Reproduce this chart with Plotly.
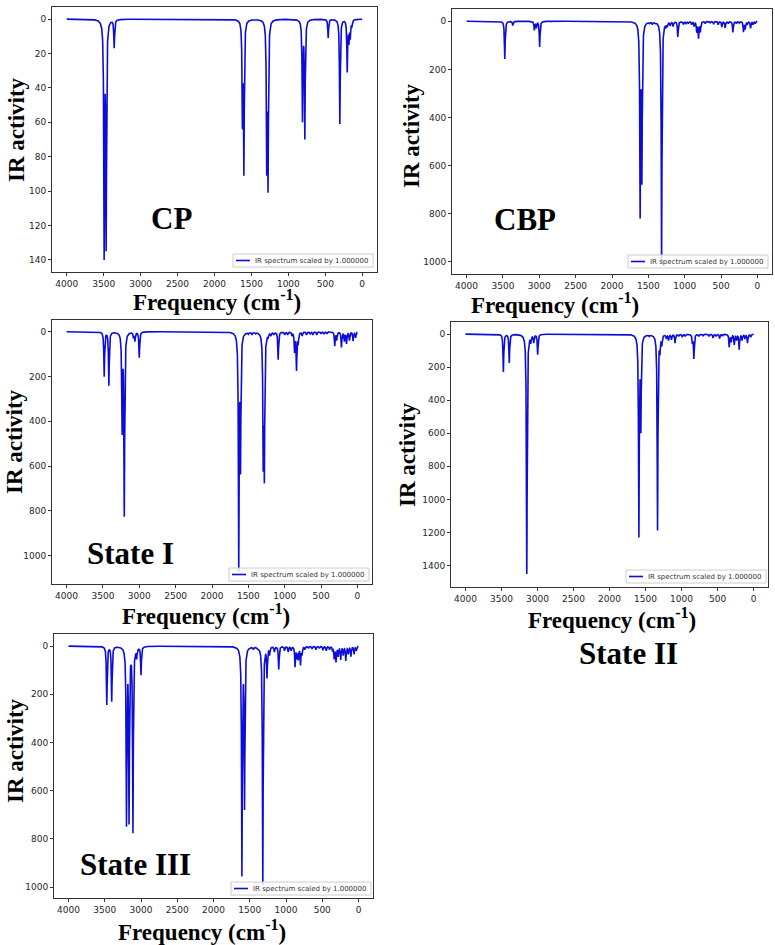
import numpy as np
import plotly.graph_objects as go

W, H = 775, 945

# ---------------- data: IR bands (frequency cm-1, peak height) -------------
cp_freq = [3494, 3467, 3358, 1622, 1602, 1293, 1275, 809, 777, 461, 303, 203, 180, 162, 140]
cp_height = [140, 135, 17, 64, 91, 91, 101, 60, 70, 11, 61, 31, 15, 12, 5]

cbp_freq = [3474, 3364, 3068, 3040, 2995, 1613, 1589, 1485, 1445, 1405, 1318, 1288, 1262, 1240,
            1200, 1160, 1095, 1020, 985, 950, 905, 870, 835, 810, 785, 718, 650, 603, 540, 490,
            444, 400, 338, 290, 250, 192, 168, 140, 95, 60, 30]
cbp_height = [157, 18, 38, 30, 107, 820, 680, 10, 14, 10, 1000, 40, 30, 25,
              20, 22, 65, 14, 12, 10, 15, 22, 48, 73, 46, 10, 8, 12, 14, 24,
              28, 10, 46, 10, 8, 45, 35, 15, 30, 15, 10]

s1_freq = [3482, 3418, 3236, 3206, 3080, 3060, 3000, 1632, 1608, 1500, 1450, 1400, 1296, 1280,
           1250, 1230, 1190, 1150, 1090, 1000, 960, 900, 865, 838, 815, 760, 700, 650, 613, 560,
           500, 460, 420, 312, 285, 220, 180, 150, 110, 60, 25]
s1_height = [201, 241, 461, 826, 30, 45, 116, 1070, 637, 12, 15, 10, 625, 677,
             45, 30, 20, 15, 125, 15, 15, 20, 95, 175, 60, 20, 15, 12, 15, 15,
             10, 12, 10, 65, 40, 70, 45, 55, 40, 42, 28]

s2_freq = [3473, 3391, 3148, 3093, 3052, 2997, 1592, 1565, 1500, 1450, 1400, 1333, 1300, 1274,
           1210, 1180, 1140, 1090, 1040, 990, 950, 850, 829, 760, 700, 620, 563, 520, 472, 430,
           338, 310, 268, 235, 200, 160, 120, 85, 40]
s2_height = [230, 175, 1452, 60, 55, 125, 1231, 600, 12, 15, 10, 1188, 130, 75,
             30, 40, 35, 55, 15, 20, 15, 60, 150, 15, 12, 15, 24, 15, 28, 12,
             80, 50, 65, 40, 95, 40, 30, 55, 20]

s3_freq = [3472, 3404, 3200, 3165, 3111, 3085, 3060, 3000, 1608, 1572, 1500, 1450, 1400, 1320,
           1296, 1262, 1227, 1160, 1100, 1020, 970, 930, 875, 850, 830, 800, 780, 740, 690, 640,
           587, 540, 490, 445, 400, 358, 335, 310, 280, 245, 210, 175, 140, 105, 60, 30]
s3_height = [244, 231, 749, 740, 776, 40, 55, 121, 956, 680, 12, 15, 10, 990,
             60, 134, 40, 25, 97, 20, 25, 20, 88, 55, 60, 80, 40, 15, 10, 12,
             15, 10, 18, 20, 15, 23, 55, 68, 45, 58, 40, 62, 35, 44, 35, 20]

panel_names = ["CP", "CBP", "State I", "State II", "State III"]
legend_text = "IR spectrum scaled by 1.000000"
x_title = "Frequency (cm<sup>-1</sup>)"
y_title = "IR activity"

# Lorentzian line shape (half width at half height, cm-1), spectrum from 4000 to 0 cm-1
HWHM = 6.0
grid = np.arange(4000.0, -0.5, -1.0)


def lorentz(x, c):
    return HWHM ** 2 / ((x - c) ** 2 + HWHM ** 2)


def spectrum(freq, height):
    c = np.array(freq, float)
    h = np.array(height, float)
    M = lorentz(c[:, None], c[None, :])
    a = h.copy()
    for _ in range(400):  # non-negative fit so that band maxima equal the read heights
        for i in range(len(a)):
            a[i] = max(0.0, h[i] - (M[i] @ a - a[i]))
    return (a[None, :] * lorentz(grid[:, None], c[None, :])).sum(axis=1)


series = [(cp_freq, cp_height), (cbp_freq, cbp_height), (s1_freq, s1_height),
          (s2_freq, s2_height), (s3_freq, s3_height)]

# ---------------- layout (pixels) ----------------
boxes = [(52, 377, 7, 272), (452, 772, 9, 274), (52, 372, 320, 584),
         (451, 768, 322, 587), (54, 373, 634, 898)]
y_ranges = [[147, -7], [1051, -51], [1126, -52], [1530, -73], [1045, -50]]
y_dticks = [20, 200, 200, 200, 200]
legend_corner = [(373, 267), (768, 268), (369, 581), (766, 583), (371, 895)]
name_pos = [(171, 218), (525, 219), (130, 553), (628, 653), (135, 864)]
xt_pos = [(217, 300), (555, 303), (206, 614), (612, 618), (202, 930)]
yt_pos = [(16, 130), (412, 136), (14, 442), (408, 455), (15, 751)]

LINE = "#0d0dd8"
TICKC = "#262626"
SERIF = "Liberation Serif, Times New Roman, serif"


def px2paper(x, y):
    return x / W, 1 - y / H


fig = go.Figure()
annotations = []
shapes = []
for k, ((fr, hi), (x0, x1, y0, y1)) in enumerate(zip(series, boxes)):
    n = "" if k == 0 else str(k + 1)
    fig.add_trace(go.Scatter(x=grid, y=spectrum(fr, hi), mode="lines", name=legend_text,
                             line=dict(color=LINE, width=1.6), xaxis="x" + n, yaxis="y" + n,
                             showlegend=False))
    axc = dict(showline=True, mirror=True, linecolor="#333333", linewidth=1, ticks="outside",
               ticklen=3, tickwidth=1, tickcolor="#333333", showgrid=False, zeroline=False,
               tickfont=dict(family="DejaVu Sans", size=9, color=TICKC))
    fig.update_layout(**{
        "xaxis" + n: dict(axc, domain=[x0 / W, x1 / W], range=[4200, -200], dtick=500,
                          tick0=0, anchor="y" + n),
        "yaxis" + n: dict(axc, domain=[1 - y1 / H, 1 - y0 / H], range=y_ranges[k],
                          dtick=y_dticks[k], tick0=0, anchor="x" + n),
    })

    # legend box (matplotlib style: small, semi-opaque framed box in the lower right corner)
    R, B = legend_corner[k]
    bx0, by0 = px2paper(R - 140, B - 13)
    bx1, by1 = px2paper(R, B)
    shapes.append(dict(type="rect", xref="paper", yref="paper", x0=bx0, x1=bx1, y0=by1, y1=by0,
                       fillcolor="rgba(255,255,255,0.8)", line=dict(color="#cccccc", width=1),
                       layer="above"))
    lx0, ly = px2paper(R - 137, B - 6.5)
    lx1, _ = px2paper(R - 123, B - 6.5)
    shapes.append(dict(type="line", xref="paper", yref="paper", x0=lx0, x1=lx1, y0=ly, y1=ly,
                       line=dict(color=LINE, width=1.6), layer="above"))
    tx, ty = px2paper(R - 119, B - 6.5)
    annotations.append(dict(text=legend_text, x=tx, y=ty, xref="paper", yref="paper",
                            showarrow=False, xanchor="left", yanchor="middle", borderpad=0,
                            font=dict(family="DejaVu Sans", size=7, color="#333333")))

    px, py = name_pos[k]
    annotations.append(dict(text=panel_names[k], x=px / W, y=1 - py / H, xref="paper",
                            yref="paper", showarrow=False, xanchor="center", yanchor="middle",
                            font=dict(family=SERIF, size=31, color="black", weight="bold")))
    px, py = xt_pos[k]
    annotations.append(dict(text=x_title, x=px / W, y=1 - py / H, xref="paper",
                            yref="paper", showarrow=False, xanchor="center", yanchor="middle",
                            font=dict(family=SERIF, size=23, color="black", weight="bold")))
    px, py = yt_pos[k]
    annotations.append(dict(text=y_title, x=px / W, y=1 - py / H, xref="paper",
                            yref="paper", showarrow=False, xanchor="center", yanchor="middle",
                            textangle=-90,
                            font=dict(family=SERIF, size=23, color="black", weight="bold")))

fig.update_layout(width=W, height=H, margin=dict(l=0, r=0, t=0, b=0), showlegend=False,
                  paper_bgcolor="white", plot_bgcolor="white", annotations=annotations,
                  shapes=shapes)
fig.write_html("out.html")
